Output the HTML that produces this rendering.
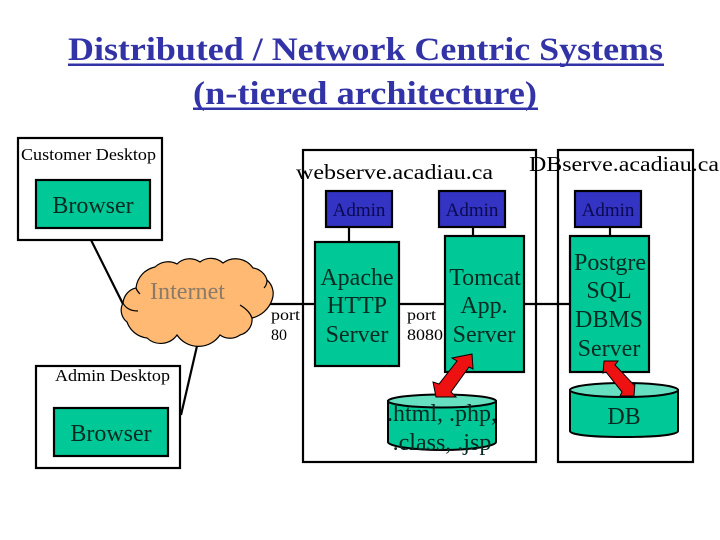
<!DOCTYPE html>
<html><head><meta charset="utf-8"><style>
html,body{margin:0;padding:0;background:#fff;width:720px;height:540px;overflow:hidden}
svg{display:block}
text{font-family:"Liberation Serif",serif}
</style></head><body>
<svg width="720" height="540" viewBox="0 0 720 540" xmlns="http://www.w3.org/2000/svg">
<rect width="720" height="540" fill="#fff"/>
<g fill="#3333a8" font-weight="bold" font-size="33">
<text x="68" y="60" textLength="595" lengthAdjust="spacingAndGlyphs">Distributed / Network Centric Systems</text>
<text x="193" y="104" textLength="344" lengthAdjust="spacingAndGlyphs">(n-tiered architecture)</text>
</g>
<rect x="68" y="63.5" width="596" height="2.5" fill="#3333a8"/>
<rect x="193" y="107.5" width="345" height="2.5" fill="#3333a8"/>

<g fill="none" stroke="#000" stroke-width="2.2">
<rect x="18" y="138" width="144" height="102" fill="#fff"/>
<rect x="36" y="366" width="144" height="102" fill="#fff"/>
<rect x="303" y="150" width="233" height="312"/>
<rect x="558" y="150" width="135" height="312"/>
</g>

<g stroke="#000" stroke-width="2.2" fill="none">
<line x1="91" y1="240" x2="123" y2="304"/>
<line x1="197" y1="346" x2="181" y2="415"/>
<line x1="270" y1="304" x2="315" y2="304"/>
<line x1="399" y1="304" x2="445" y2="304"/>
<line x1="524" y1="304" x2="570" y2="304"/>
<line x1="349" y1="227" x2="349" y2="242"/>
<line x1="473" y1="227" x2="473" y2="236"/>
<line x1="610" y1="227" x2="610" y2="236"/>
</g>

<path d="M123 303 A16 17 0 0 1 136 288 A24 24 0 0 1 155 267 A19 19 0 0 1 177 264 A18 18 0 0 1 200 262 A18 18 0 0 1 223 263 A21 21 0 0 1 253 268 A17 17 0 0 1 267 280 A18 18 0 0 1 272 300 A28 28 0 0 1 252 318 A16 16 0 0 1 240 335 A17 17 0 0 1 220 335 A26 26 0 0 1 177 335 A20 20 0 0 1 147 338 A24 24 0 0 1 127 322 A15 15 0 0 1 123 303 Z" fill="#ffb973" stroke="#000" stroke-width="1.2"/>
<g fill="none" stroke="#000" stroke-width="1.2">
<path d="M123 303 C126 309 131 311 138 311"/>
<path d="M240 305 C245 308 250 312 252 318"/>
<path d="M136 288 C137 291 138 292 140 294"/>
<path d="M267 280 C267 284 266 286 264 288"/>
</g>

<g fill="#00c896" stroke="#000" stroke-width="2.2">
<rect x="36" y="180" width="114" height="48"/>
<rect x="54" y="408" width="114" height="48"/>
<rect x="315" y="242" width="84" height="124"/>
<rect x="445" y="236" width="79" height="136"/>
<rect x="570" y="236" width="79" height="136"/>
</g>
<g fill="#3333c4" stroke="#000" stroke-width="2.2">
<rect x="326" y="191" width="66" height="36"/>
<rect x="439" y="191" width="66" height="36"/>
<rect x="575" y="191" width="66" height="36"/>
</g>

<g stroke="#000" stroke-width="2">
<path d="M388 401 V442 C388 446 412 450 442 450 C472 450 496 446 496 442 V401 Z" fill="#00c896"/>
<ellipse cx="442" cy="401" rx="54" ry="6.5" fill="#66e0c0"/>
<path d="M570 390 V431 C570 435 594 437 624 437 C654 437 678 435 678 431 V390 Z" fill="#00c896"/>
<ellipse cx="624" cy="390" rx="54" ry="7" fill="#66e0c0"/>
</g>

<g fill="#ee1111" stroke="#000" stroke-width="1">
<polygon points="472,354 473,369 469,367 451,392 456,397 436,397 433,382 439,384 457,361 452,358"/>
<polygon points="604,361 618,361 615,365 634,385 635,383 634,396 620,396 622,392 606,372 603,373"/>
</g>

<g fill="#000">
<text x="21" y="160" font-size="16.5" textLength="135" lengthAdjust="spacingAndGlyphs">Customer Desktop</text>
<text x="55" y="381" font-size="16.5" textLength="115" lengthAdjust="spacingAndGlyphs">Admin Desktop</text>
<text x="296" y="179" font-size="21.5" textLength="197" lengthAdjust="spacingAndGlyphs">webserve.acadiau.ca</text>
<text x="529" y="171" font-size="21.5" textLength="190" lengthAdjust="spacingAndGlyphs">DBserve.acadiau.ca</text>
<text x="271" y="320" font-size="16" textLength="29" lengthAdjust="spacingAndGlyphs">port</text>
<text x="271" y="340" font-size="16">80</text>
<text x="407" y="320" font-size="16" textLength="29" lengthAdjust="spacingAndGlyphs">port</text>
<text x="407" y="340" font-size="16" textLength="36" lengthAdjust="spacingAndGlyphs">8080</text>
</g>
<text x="150" y="299" font-size="24" fill="#8a7a68" textLength="75" lengthAdjust="spacingAndGlyphs">Internet</text>

<g fill="#062a22" font-size="24" text-anchor="middle">
<text x="93" y="213">Browser</text>
<text x="111" y="441">Browser</text>
<text x="357" y="285">Apache</text>
<text x="357" y="313">HTTP</text>
<text x="357" y="342">Server</text>
<text x="485" y="285">Tomcat</text>
<text x="484" y="313">App.</text>
<text x="484" y="342">Server</text>
<text x="610" y="270">Postgre</text>
<text x="609" y="298">SQL</text>
<text x="609" y="327">DBMS</text>
<text x="609" y="356">Server</text>
<text x="442" y="421">.html, .php,</text>
<text x="442" y="450">.class, .jsp</text>
<text x="624" y="424">DB</text>
</g>
<g fill="#0a0a50" font-size="19" text-anchor="middle">
<text x="359" y="216">Admin</text>
<text x="472" y="216">Admin</text>
<text x="608" y="216">Admin</text>
</g>
</svg>
</body></html>
